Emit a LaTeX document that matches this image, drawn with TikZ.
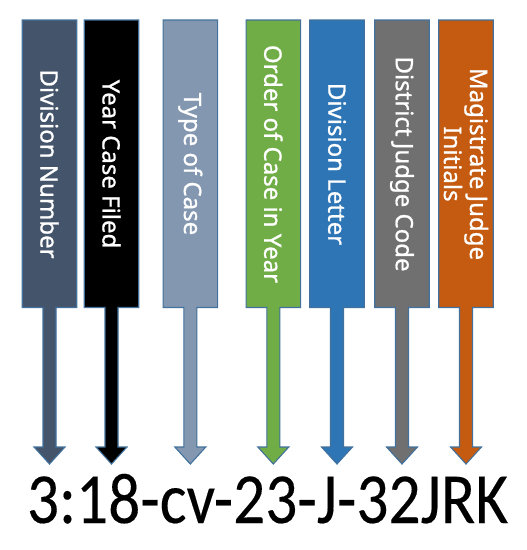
\documentclass[tikz,border=0pt]{standalone}
\usepackage{fontspec}
\setmainfont{Carlito}
\newfontfamily\codefont[FakeBold=0.2]{Carlito}
\newfontfamily\boxfont[FakeBold=0.9]{Noto Sans}
\definecolor{cA}{HTML}{44546A}
\definecolor{cB}{HTML}{000000}
\definecolor{cC}{HTML}{8497B0}
\definecolor{cD}{HTML}{70AD47}
\definecolor{cE}{HTML}{2E75B6}
\definecolor{cF}{HTML}{707070}
\definecolor{cG}{HTML}{C55A11}
\definecolor{edge}{HTML}{41719C}
\begin{document}
\begin{tikzpicture}[x=1pt,y=-1pt,
  callout/.style={draw=edge,line width=1.1pt,line join=miter},
  lbl/.style={text=white,rotate=-90,align=center,font=\boxfont\fontsize{24}{26}\selectfont,inner sep=0pt},
  code/.style={font=\codefont\fontsize{72}{72}\selectfont,anchor=base,xscale=0.88,inner sep=0pt}]
\useasboundingbox (0,0) rectangle (527,550);
\foreach \cx/\col/\nm/\txt in {
  49.5/cA/divnum/{Division Number},
  111.5/cB/year/{Year Case Filed},
  190.3/cC/type/{Type of Case},
  273.3/cD/order/{Order of Case in Year},
  337/cE/divlet/{Division Letter},
  402/cF/judge/{District Judge Code},
  466/cG/magis/{Magistrate Judge\\Initials}}{
  \draw[callout,fill=\col] (\cx-27.25,20) -- (\cx+27.25,20) -- (\cx+27.25,307.5)
    -- (\cx+6.5,307.5) -- (\cx+6.5,447) -- (\cx+15.5,447) -- (\cx,464)
    -- (\cx-15.5,447) -- (\cx-6.5,447) -- (\cx-6.5,307.5) -- (\cx-27.25,307.5) -- cycle;
  \node[lbl] (\nm) at (\cx,164) {\txt};
}
\node[code] (casecode) at (267.5,523) {3:18-cv-23-J-32JRK};
\end{tikzpicture}
\end{document}
